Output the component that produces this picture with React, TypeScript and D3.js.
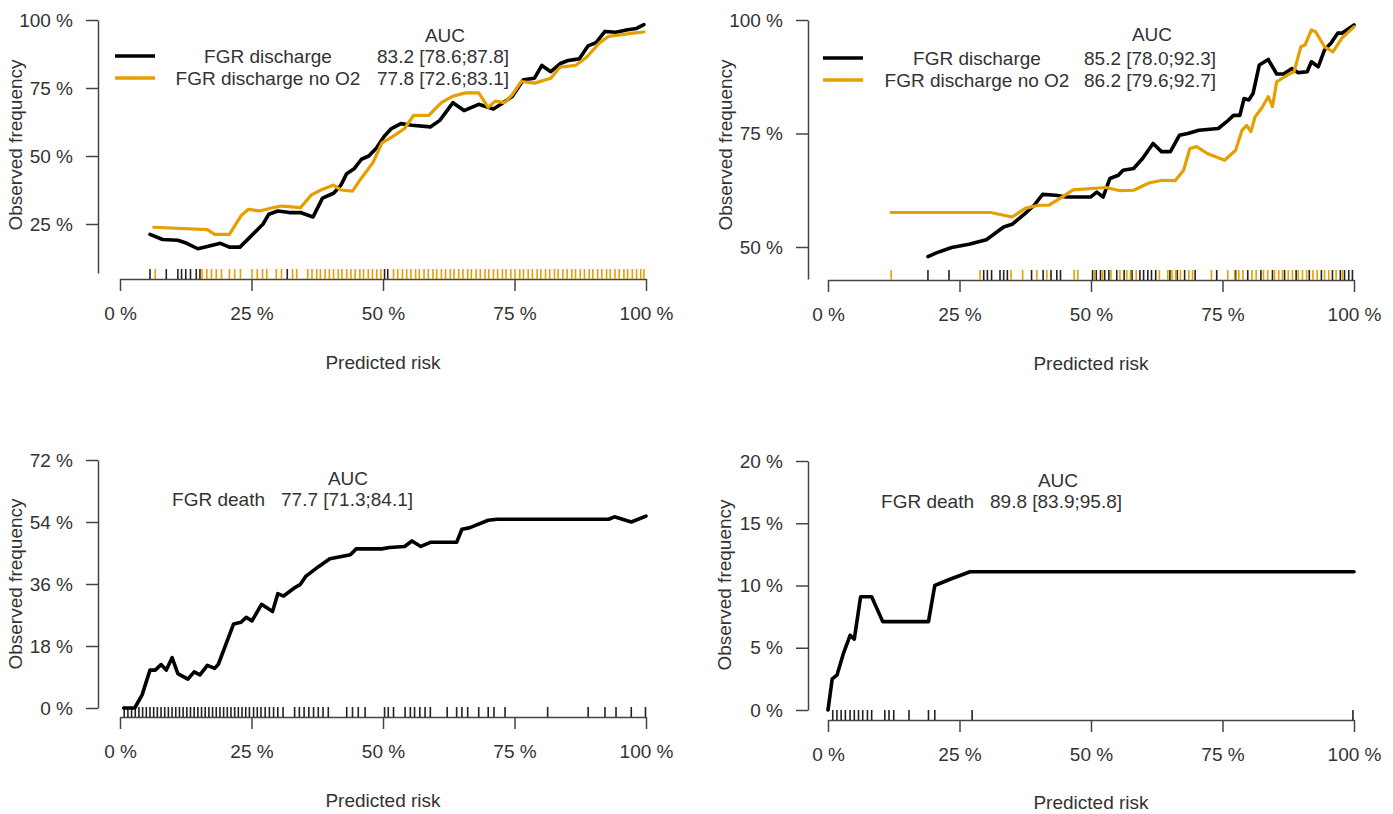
import * as d3 from 'd3'
import { useEffect, useRef } from 'react'

const FONT = '"Liberation Sans", Arial, Helvetica, sans-serif'
const BLACK = '#000000'
const ORANGE = '#E69F00'

// tick values
const xTicks = [0, 25, 50, 75, 100]
const yTicksP1 = [25, 50, 75, 100]
const yTicksP2 = [50, 75, 100]
const yTicksP3 = [0, 18, 36, 54, 72]
const yTicksP4 = [0, 5, 10, 15, 20]

// legend entries
const namesDischarge = ['FGR discharge', 'FGR discharge no O2']
const aucP1 = ['83.2 [78.6;87.8]', '77.8 [72.6;83.1]']
const aucP2 = ['85.2 [78.0;92.3]', '86.2 [79.6;92.7]']
const namesDeath = ['FGR death']
const aucP3 = ['77.7 [71.3;84.1]']
const aucP4 = ['89.8 [83.9;95.8]']

// calibration curves: [predicted %, observed %]
const p1Discharge = [[5.7,21.2],[8.1,19.3],[11,19],[12.7,17.9],[14.8,15.9],[16.6,16.7],[19.1,17.9],[20.8,16.5],[22.8,16.5],[25.1,20.9],[27.2,25],[28.3,28.6],[30,29.8],[32.2,29.2],[34.3,29.2],[36.7,27.6],[38.5,34.5],[40.6,36.3],[42,39.3],[43.1,43.5],[44.5,45.3],[45.9,48.8],[47.3,50],[48.8,53],[50.2,57.2],[51.6,60.1],[53.4,61.9],[55.5,61.3],[59,60.7],[60.8,63.1],[63.3,69.6],[65.4,66.7],[68.2,69],[71,67.3],[72.4,69],[74.6,72],[76.7,78],[78.8,78.6],[80.2,83.3],[81.9,81],[83.7,84],[85.2,85.1],[87.3,85.7],[89,90.5],[90.5,91.7],[92.2,95.8],[94.3,95.5],[96.5,96.4],[98.2,96.9],[99.6,98.3]]
const p1NoO2 = [[6.4,23.8],[16.6,22.9],[18,21.2],[20.8,21.2],[23,28],[24.4,30.4],[26.5,29.8],[28.6,30.8],[30.7,31.6],[33.2,31.2],[34.3,31],[36.4,35.7],[38.2,37.5],[40.6,39.3],[42,37.5],[44.2,37.1],[45.6,41.1],[48.1,47.6],[49.8,54.8],[51.9,57.2],[54.1,60.1],[55.8,64.9],[58.7,64.9],[61.1,69.6],[63.3,72],[65.7,73.2],[68.2,73.2],[70,67.9],[71.4,70.2],[73.1,69.6],[74.6,72.6],[76.3,77.4],[78.8,76.8],[81.9,78.6],[83.7,82.7],[86.6,83.3],[88.7,86.3],[91.2,91.7],[92.9,94],[95.4,94.6],[97.5,95.2],[99.6,95.6]]

const p2Discharge = [[19,47.9],[20.6,48.7],[23.5,49.9],[26.8,50.6],[30.1,51.6],[33.4,54.4],[35,55],[37.5,57.4],[39.2,59.2],[40.8,61.6],[43.3,61.4],[45.3,61],[49.9,61],[51.1,62.1],[52.3,61],[53.6,65.1],[55.2,65.8],[56.1,66.9],[58.1,67.3],[59.8,69.5],[61.8,72.8],[63.4,71],[65.1,71],[66.8,74.6],[68.4,75],[70.5,75.7],[74.2,76.1],[75.8,77.6],[77.1,79],[78.3,79],[79.1,82.7],[80,82.4],[80.8,83.8],[82,90.1],[83.7,91.3],[85.3,88.1],[86.6,88.1],[88.2,89.3],[89.4,88.4],[91.1,88.6],[91.9,90.8],[93.2,89.7],[94.4,93.4],[95.6,94.9],[96.9,97.1],[97.7,97.1],[100,98.9]]
const p2NoO2 = [[12,57.6],[30.9,57.6],[35,56.6],[37.5,58.5],[40,59.2],[42,59.2],[44.5,61],[46.6,62.6],[52.8,63.1],[55.6,62.4],[58.1,62.5],[61,64.1],[63.5,64.7],[66,64.6],[67.6,66.9],[68.8,71.7],[70.1,72.1],[72.1,70.6],[75.4,69.1],[77.5,71.3],[78.7,75.7],[79.6,76.8],[80.4,75.4],[81.2,78.7],[82.4,80.5],[83.7,83.1],[84.5,80.9],[85.3,86.4],[87.4,87.9],[88.6,88.6],[89.9,94.1],[90.7,94.5],[91.9,97.8],[92.7,97.4],[94.4,94.1],[96,93],[97.7,96],[100,98.5]]

const p3Death = [[0.7,0],[2.8,0],[4.2,3.8],[5.7,11],[6.7,11],[7.8,12.6],[8.8,11],[9.9,14.6],[11,10],[12.9,8.4],[14.1,10.5],[15.2,9.6],[16.6,12.4],[18,11.5],[18.7,12.7],[21.6,24.4],[23,24.9],[24,26.3],[25.1,25.3],[26.9,30.1],[29,28],[30,33.2],[31.1,32.5],[33.2,34.9],[34.3,35.9],[35.3,38.2],[37.8,41.1],[39.9,43.3],[43.8,44.5],[44.9,46.2],[49.8,46.2],[51.2,46.6],[54.1,46.9],[55.5,48.5],[57.2,46.9],[59,48.1],[64,48.1],[65,51.9],[66.4,52.3],[70,54.5],[71.7,54.8],[92.9,54.8],[94,55.5],[97.2,54],[100,55.7]]

const p4Death = [[0,0],[0.8,2.5],[1.7,2.8],[2.9,4.5],[4.2,6],[5,5.7],[6.2,9.1],[8.3,9.1],[10.4,7.1],[19.1,7.1],[20.3,10],[23.2,10.5],[27,11.1],[100,11.1]]

// rug marks (predicted %)
const rugP1Black = [5.7, 8.8, 11.0, 11.7, 12.5, 13.4, 14.5, 15.2, 31.8, 50.3, 50.9]
const rugP1Orange = [6.7, 15.6, 16.5, 17.4, 18.3, 19.3, 20.8, 21.8, 22.9, 25.1, 26.1, 27.1, 27.9, 29.7, 30.7, 32.8, 33.6, 35.7, 36.5, 37.4, 38.1, 39.0, 39.8, 40.6, 41.5, 42.2, 43.1, 43.9, 44.7, 45.6, 46.3, 47.2, 48.0, 48.8, 49.6, 52.0, 52.8, 53.7, 54.5, 55.3, 56.2, 56.9, 57.8, 58.6, 59.5, 60.2, 61.1, 61.9, 62.8, 63.5, 64.4, 65.2, 66.1, 66.8, 67.7, 68.5, 69.4, 70.1, 71.0, 71.8, 72.7, 73.4, 74.3, 75.1, 76.0, 76.7, 77.6, 78.4, 79.3, 80.0, 80.9, 81.7, 82.6, 83.3, 84.2, 85.0, 85.9, 86.6, 87.5, 88.3, 89.2, 89.9, 90.8, 91.6, 92.5, 93.2, 94.1, 94.9, 95.8, 96.5, 97.4, 98.2, 99.0, 99.6]

const rugP2Black = [19.0, 23.0, 29.6, 30.3, 31.1, 32.7, 33.4, 34.1, 38.7, 40.9, 42.4, 43.5, 44.2, 50.3, 51.0, 51.8, 52.6, 53.4, 54.9, 56.3, 57.8, 59.3, 60.0, 60.8, 61.5, 62.3, 65.0, 66.4, 67.8, 69.8, 73.9, 77.5, 79.8, 82.3, 84.5, 86.8, 89.0, 91.5, 93.8, 95.9, 97.4, 98.2, 99.0, 99.7]
const rugP2Orange = [12.0, 28.9, 34.8, 37.0, 39.7, 41.6, 46.8, 47.5, 50.7, 52.2, 53.8, 55.5, 56.8, 57.5, 58.6, 63.0, 64.6, 65.4, 66.1, 67.0, 68.6, 69.3, 72.9, 76.0, 77.3, 78.1, 78.9, 80.6, 81.4, 82.8, 83.6, 84.9, 85.7, 86.4, 87.5, 88.3, 89.4, 90.2, 91.0, 92.2, 93.0, 94.4, 95.2, 96.6, 97.8]

const rugP3 = [0.8, 1.5, 2.2, 2.9, 3.6, 4.3, 5.0, 5.7, 6.4, 7.1, 7.8, 8.5, 9.2, 9.9, 10.6, 11.3, 12.0, 12.7, 13.4, 14.1, 14.8, 15.5, 16.2, 16.9, 17.6, 18.3, 19.0, 19.7, 20.4, 21.1, 21.8, 22.5, 23.2, 23.9, 24.6, 25.4, 26.1, 26.8, 27.6, 28.4, 29.2, 30.0, 31.0, 33.2, 34.1, 35.0, 35.9, 36.8, 37.7, 38.6, 39.6, 43.1, 44.2, 45.3, 46.6, 50.3, 51.0, 52.0, 54.2, 55.2, 56.0, 57.0, 58.0, 59.0, 62.2, 64.0, 65.0, 66.1, 68.2, 70.0, 71.1, 73.2, 81.3, 89.0, 92.2, 94.3, 97.2, 99.9]
const rugP4 = [0.9, 1.7, 2.5, 3.3, 4.2, 5.0, 5.8, 6.6, 7.5, 8.3, 10.8, 11.6, 12.5, 15.4, 19.1, 20.3, 27.4, 99.8]

const panels = [
  {
    left: 120, right: 646, yAxisX: 98, yRef: [25, 100], yPix: [224, 20], yAxisEnd: 273, xAxisY: 279,
    yTicks: yTicksP1, yTitleX: 15, yTitleY: 145, xTitleY: 362, tickLabelGap: 16,
    series: [{ data: p1Discharge, color: BLACK, width: 3.6 }, { data: p1NoO2, color: ORANGE, width: 3.2 }],
    rugs: [{ data: rugP1Black, color: '#222' }, { data: rugP1Orange, color: ORANGE }],
    legend: { names: namesDischarge, aucs: aucP1, colors: [BLACK, ORANGE], lineX: [115, 155], nameX: 268, nameAnchor: 'middle', valueX: 377, aucX: 445, aucY: 35, rows: [56, 78] },
  },
  {
    left: 828, right: 1354, yAxisX: 808, yRef: [50, 100], yPix: [247, 20], yAxisEnd: 279, xAxisY: 280,
    yTicks: yTicksP2, yTitleX: 725, yTitleY: 145, xTitleY: 363, tickLabelGap: 16,
    series: [{ data: p2Discharge, color: BLACK, width: 3.6 }, { data: p2NoO2, color: ORANGE, width: 3.2 }],
    rugs: [{ data: rugP2Black, color: '#222' }, { data: rugP2Orange, color: ORANGE }],
    legend: { names: namesDischarge, aucs: aucP2, colors: [BLACK, ORANGE], lineX: [823, 863], nameX: 977, nameAnchor: 'middle', valueX: 1084, aucX: 1152, aucY: 34, rows: [58, 80] },
  },
  {
    left: 120, right: 646, yAxisX: 98, yRef: [0, 72], yPix: [708, 460], yAxisEnd: 708, xAxisY: 717,
    yTicks: yTicksP3, yTitleX: 15, yTitleY: 584, xTitleY: 800, tickLabelGap: 16,
    series: [{ data: p3Death, color: BLACK, width: 3.6 }],
    rugs: [{ data: rugP3, color: '#222' }],
    legend: { names: namesDeath, aucs: aucP3, colors: [], lineX: null, nameX: 265, nameAnchor: 'end', valueX: 281, aucX: 348, aucY: 478, rows: [499] },
  },
  {
    left: 828, right: 1354, yAxisX: 808, yRef: [0, 20], yPix: [710, 461], yAxisEnd: 710, xAxisY: 720,
    yTicks: yTicksP4, yTitleX: 724, yTitleY: 585, xTitleY: 802, tickLabelGap: 16,
    series: [{ data: p4Death, color: BLACK, width: 3.6 }],
    rugs: [{ data: rugP4, color: '#222' }],
    legend: { names: namesDeath, aucs: aucP4, colors: [], lineX: null, nameX: 974, nameAnchor: 'end', valueX: 990, aucX: 1058, aucY: 480, rows: [501] },
  },
]

const drawPanel = (root, p) => {
  const g = root.append('g')
  const x = d3.scaleLinear().domain([0, 100]).range([p.left, p.right])
  const y = d3.scaleLinear().domain(p.yRef).range(p.yPix)

  // asse y (la linea scende fino a yAxisEnd)
  const yAxisScale = y.copy().domain([y.invert(p.yAxisEnd), p.yRef[1]]).range([p.yAxisEnd, p.yPix[1]])
  const yAxis = g.append('g')
    .attr('transform', `translate(${p.yAxisX},0)`)
    .call(d3.axisLeft(yAxisScale).tickValues(p.yTicks).tickSize(12).tickSizeOuter(0).tickPadding(13).tickFormat(d => `${d} %`))
  yAxis.attr('font-size', 19).attr('font-family', FONT).attr('color', '#444')
  yAxis.selectAll('path, line').attr('stroke-width', 1.5)
  yAxis.selectAll('text').attr('fill', '#333')

  // asse x
  const xAxis = g.append('g')
    .attr('transform', `translate(0,${p.xAxisY})`)
    .call(d3.axisBottom(x).tickValues(xTicks).tickSize(12).tickSizeOuter(0).tickPadding(p.tickLabelGap).tickFormat(d => `${d} %`))
  xAxis.attr('font-size', 19).attr('font-family', FONT).attr('color', '#444')
  xAxis.selectAll('path, line').attr('stroke-width', 1.5)
  xAxis.selectAll('text').attr('fill', '#333')

  // rug
  p.rugs.forEach(r => {
    g.append('g').selectAll('line')
      .data(r.data)
      .enter()
      .append('line')
      .attr('x1', d => x(d)).attr('x2', d => x(d))
      .attr('y1', p.xAxisY).attr('y2', p.xAxisY - 10)
      .attr('stroke', r.color)
      .attr('stroke-width', 1.6)
  })

  // curve
  const line = d3.line().x(d => x(d[0])).y(d => y(d[1]))
  p.series.forEach(s => {
    g.append('path')
      .datum(s.data)
      .attr('fill', 'none')
      .attr('stroke', s.color)
      .attr('stroke-width', s.width)
      .attr('stroke-linejoin', 'round')
      .attr('stroke-linecap', 'round')
      .attr('d', line)
  })

  // titoli assi
  g.append('text')
    .attr('x', x(50)).attr('y', p.xTitleY).attr('dy', '0.35em')
    .attr('text-anchor', 'middle')
    .attr('font-family', FONT).attr('font-size', 19).attr('fill', '#333')
    .text('Predicted risk')
  g.append('text')
    .attr('transform', `translate(${p.yTitleX},${p.yTitleY}) rotate(-90)`)
    .attr('dy', '0.35em')
    .attr('text-anchor', 'middle')
    .attr('font-family', FONT).attr('font-size', 19).attr('fill', '#333')
    .text('Observed frequency')

  // legenda
  const lg = p.legend
  const txt = (tx, ty, t, anchor) => g.append('text')
    .attr('x', tx).attr('y', ty).attr('dy', '0.35em')
    .attr('text-anchor', anchor)
    .attr('font-family', FONT).attr('font-size', 19).attr('fill', '#333')
    .text(t)
  txt(lg.aucX, lg.aucY, 'AUC', 'middle')
  lg.names.forEach((n, i) => {
    const ry = lg.rows[i]
    if (lg.lineX) {
      g.append('line')
        .attr('x1', lg.lineX[0]).attr('x2', lg.lineX[1])
        .attr('y1', ry).attr('y2', ry)
        .attr('stroke', lg.colors[i]).attr('stroke-width', 3.6)
    }
    txt(lg.nameX, ry, n, lg.nameAnchor)
    txt(lg.valueX, ry, lg.aucs[i], 'start')
  })
}

const App = () => {
  const ref = useRef(null)

  useEffect(() => {
    const svg = d3.select(ref.current)
    svg.selectAll('*').remove()
    svg.append('rect').attr('width', 1393).attr('height', 814).attr('fill', '#fff')
    panels.forEach(p => drawPanel(svg, p))
  }, [])

  return (
    <svg ref={ref} width={1393} height={814} style={{ position: 'absolute', left: 0, top: 0 }} />
  )
}

export default App
